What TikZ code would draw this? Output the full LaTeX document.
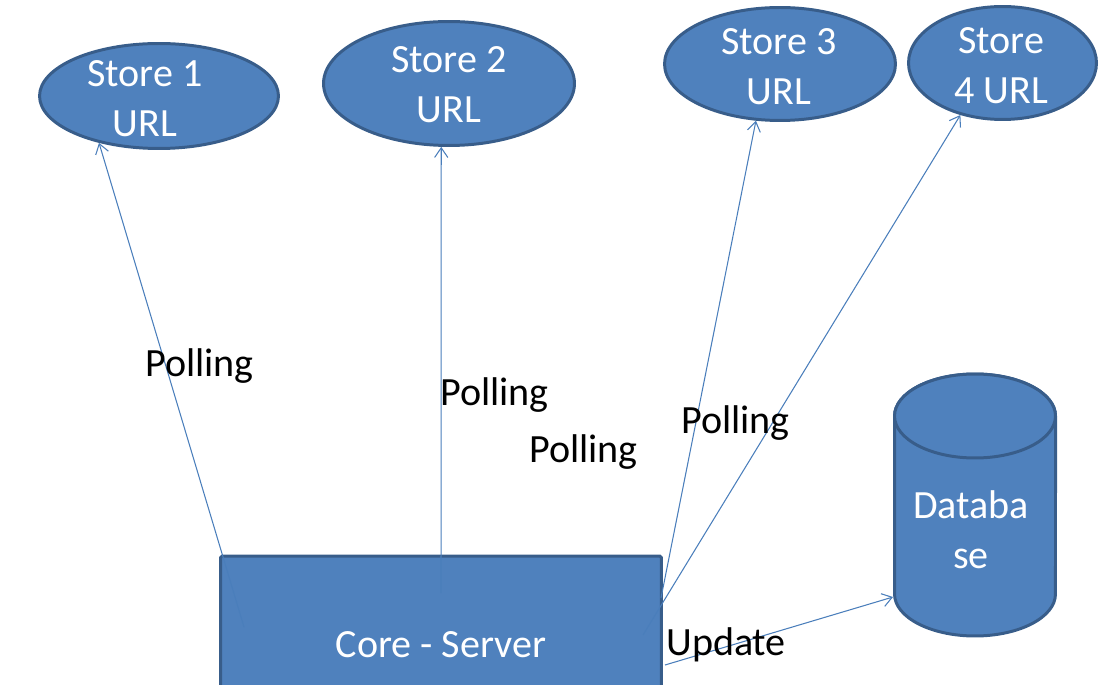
\documentclass[tikz,border=0pt]{standalone}
\usepackage{fontspec}
\setmainfont{Carlito}
\usetikzlibrary{arrows.meta,shapes.geometric}
\definecolor{fillblue}{HTML}{4F81BD}
\definecolor{edgeblue}{HTML}{385D8A}
\definecolor{arrowblue}{HTML}{4A7EBB}
\begin{document}
\begin{tikzpicture}[x=0.02cm,y=-0.02cm,
  shapebox/.style={fill=fillblue,draw=edgeblue,line width=1.7pt},
  storeoval/.style={shapebox,ellipse,inner sep=0pt},
  whitetext/.style={text=white,font=\fontsize{22.8}{28.5}\selectfont,align=center,inner sep=0pt},
  polltext/.style={text=black,font=\fontsize{22.8}{28.5}\selectfont,inner sep=0pt,anchor=base west},
  conn/.style={draw=arrowblue,line width=0.6pt,-{Straight Barb[length=5.5pt,width=7.5pt]}}
]
\useasboundingbox (0,0) rectangle (1104,685);
\clip (0,0) rectangle (1104,685);

% store ovals
\node[storeoval,minimum width=4.78cm,minimum height=2.1cm] (s1) at (159,96) {};
\node[storeoval,minimum width=5.02cm,minimum height=2.48cm] (s2) at (449,83.5) {};
\node[storeoval,minimum width=4.62cm,minimum height=2.26cm] (s3) at (780,64) {};
\node[storeoval,minimum width=3.76cm,minimum height=2.26cm] (s4) at (1002.5,63) {};
\node[whitetext] (s1t) at (145,99) {Store 1\\URL};
\node[whitetext] (s2t) at (449,85) {Store 2\\URL};
\node[whitetext] (s3t) at (779,67) {Store 3\\URL};
\node[whitetext] (s4t) at (1001,66) {Store\\4 URL};

% core server
\node[shapebox,rectangle,rounded corners=1pt,minimum width=8.82cm,minimum height=3.52cm,inner sep=0pt] (core) at (441,644) {};
\node[whitetext,anchor=base] (coret) at (441,657) {Core - Server};

% database cylinder
\draw[shapebox] (894.5,416) -- (894.5,594)
  arc[start angle=180,end angle=360,x radius=1.61cm,y radius=0.84cm]
  -- (1055.5,416)
  arc[start angle=0,end angle=180,x radius=1.61cm,y radius=0.84cm] -- cycle;
\draw[shapebox] (975,416) ellipse [x radius=1.61cm,y radius=0.84cm];
\node[whitetext] (dbt) at (971,530) {Databa\\se};
\coordinate (dbin) at (893,597);

% connector sources
\coordinate (c1) at (244,627);
\coordinate (c2) at (441,593);
\coordinate (c3) at (661,598);
\coordinate (c4) at (643,635);
\coordinate (c5) at (665,665);

\draw[conn] (c1) -- (s1.218);
\draw[conn] (c2) -- (s2.263);
\draw[conn] (c3) -- (s3.247);
\draw[conn] (c4) -- (s4.231);
\draw[conn] (c5) -- (dbin);

% labels
\node[polltext] (p1) at (145,377) {Polling};
\node[polltext] (p2) at (440,405) {Polling};
\node[polltext] (p3) at (529,462) {Polling};
\node[polltext] (p4) at (681,433) {Polling};
\node[polltext] (upd) at (666,655) {Update};
\end{tikzpicture}
\end{document}
